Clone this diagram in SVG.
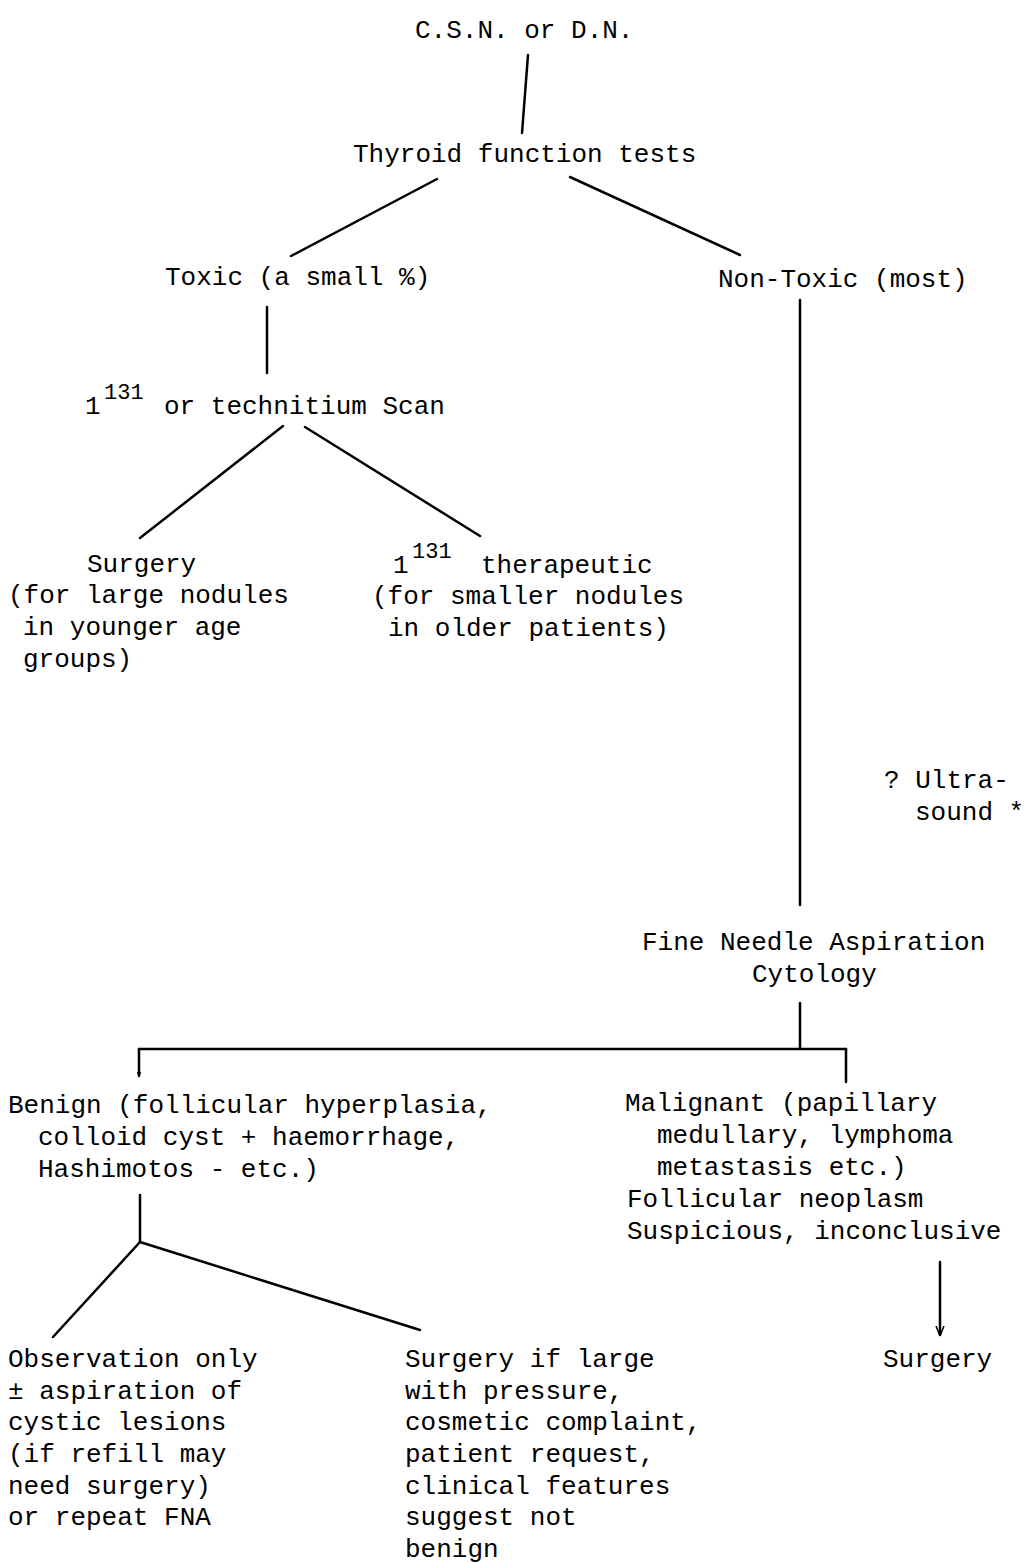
<svg xmlns="http://www.w3.org/2000/svg" width="1029" height="1563" viewBox="0 0 1029 1563">
<style>
text{font-family:"Liberation Mono","DejaVu Sans Mono",monospace;font-size:26px;fill:#000}
.sup{font-size:22px}
.c{stroke:#000;stroke-width:2.5;fill:none;stroke-linecap:round}
</style>
<defs>
<marker id="ah" viewBox="0 0 10 10" refX="9" refY="5" markerWidth="5" markerHeight="5" orient="auto" markerUnits="userSpaceOnUse">
<path d="M0,1 L10,5 L0,9" fill="none" stroke="#000" stroke-width="2"/>
</marker>
<marker id="ah2" viewBox="0 0 10 10" refX="9" refY="5" markerWidth="10" markerHeight="10" orient="auto" markerUnits="userSpaceOnUse">
<path d="M0,1 L10,5 L0,9" fill="none" stroke="#000" stroke-width="1.5"/>
</marker>
</defs>
<rect width="1029" height="1563" fill="#fff"/>
<g id="connectors">
<line class="c" x1="528" y1="55" x2="522" y2="133"/>
<line class="c" x1="437" y1="179" x2="291" y2="256"/>
<line class="c" x1="570" y1="177" x2="740" y2="255"/>
<line class="c" x1="267" y1="307" x2="267" y2="373"/>
<line class="c" x1="283" y1="426" x2="140" y2="538"/>
<line class="c" x1="305" y1="427" x2="480" y2="536"/>
<line class="c" x1="800" y1="300" x2="800" y2="905"/>
<line class="c" x1="800" y1="1003" x2="800" y2="1049"/>
<line class="c" x1="139" y1="1049" x2="846" y2="1049"/>
<line class="c" x1="139" y1="1049" x2="139" y2="1076" marker-end="url(#ah)"/>
<line class="c" x1="846" y1="1049" x2="846" y2="1082"/>
<line class="c" x1="140" y1="1195" x2="140" y2="1242"/>
<line class="c" x1="140" y1="1242" x2="53" y2="1337"/>
<line class="c" x1="140" y1="1242" x2="420" y2="1330"/>
<line class="c" x1="940" y1="1262" x2="940" y2="1335" marker-end="url(#ah2)"/>
</g>
<g id="n-start"><text x="415" y="38">C.S.N. or D.N.</text></g>
<g id="n-tft"><text x="353" y="162">Thyroid function tests</text></g>
<g id="n-toxic"><text x="165" y="285">Toxic (a small %)</text></g>
<g id="n-nontoxic"><text x="718" y="287">Non-Toxic (most)</text></g>
<g id="n-scan"><text x="85" y="414">1</text><text class="sup" x="104" y="399">131</text><text x="164" y="414">or technitium Scan</text></g>
<g id="n-surgery1">
<text x="87" y="572">Surgery</text>
<text x="8" y="603">(for large nodules</text>
<text x="23" y="635">in younger age</text>
<text x="23" y="667">groups)</text>
</g>
<g id="n-therapeutic">
<text x="393" y="573">1</text><text class="sup" x="412" y="558">131</text><text x="481" y="573">therapeutic</text>
<text x="372" y="604">(for smaller nodules</text>
<text x="388" y="636">in older patients)</text>
</g>
<g id="n-ultrasound">
<text x="884" y="788">? Ultra-</text>
<text x="915" y="820">sound *</text>
</g>
<g id="n-fna">
<text x="642" y="950">Fine Needle Aspiration</text>
<text x="752" y="982">Cytology</text>
</g>
<g id="n-benign">
<text x="8" y="1113">Benign (follicular hyperplasia,</text>
<text x="38" y="1145">colloid cyst + haemorrhage,</text>
<text x="38" y="1177">Hashimotos - etc.)</text>
</g>
<g id="n-malignant">
<text x="625" y="1111">Malignant (papillary</text>
<text x="657" y="1143">medullary, lymphoma</text>
<text x="657" y="1175">metastasis etc.)</text>
<text x="627" y="1207">Follicular neoplasm</text>
<text x="627" y="1239">Suspicious, inconclusive</text>
</g>
<g id="n-observation">
<text x="8" y="1367">Observation only</text>
<text x="8" y="1399">± aspiration of</text>
<text x="8" y="1430">cystic lesions</text>
<text x="8" y="1462">(if refill may</text>
<text x="8" y="1494">need surgery)</text>
<text x="8" y="1525">or repeat FNA</text>
</g>
<g id="n-surgery2">
<text x="405" y="1367">Surgery if large</text>
<text x="405" y="1399">with pressure,</text>
<text x="405" y="1430">cosmetic complaint,</text>
<text x="405" y="1462">patient request,</text>
<text x="405" y="1494">clinical features</text>
<text x="405" y="1525">suggest not</text>
<text x="405" y="1557">benign</text>
</g>
<g id="n-surgery3"><text x="883" y="1367">Surgery</text></g>
</svg>
